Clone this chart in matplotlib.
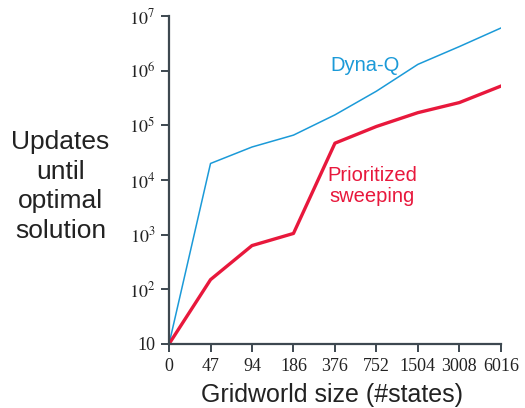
import matplotlib
matplotlib.use("Agg")
import matplotlib.pyplot as plt
import numpy as np

# gridworld sizes (categorical x axis, equally spaced)
SIZES = ["0", "47", "94", "186", "376", "752", "1504", "3008", "6016"]

# updates until optimal solution
DYNA_Q = [10, 2.0e4, 4.0e4, 6.6e4, 1.55e5, 4.2e5, 1.3e6, 2.75e6, 6.0e6]
PRIO_SWEEP = [10, 150, 630, 1050, 4.7e4, 9.5e4, 1.7e5, 2.6e5, 5.2e5]

YTICKS = [10, 1e2, 1e3, 1e4, 1e5, 1e6, 1e7]
YTICK_LABELS = ["10", "$10^{2}$", "$10^{3}$", "$10^{4}$", "$10^{5}$", "$10^{6}$", "$10^{7}$"]

BLUE = "#1b9ad8"
RED = "#e8183c"
AXC = "#3d4850"

plt.rcParams["mathtext.fontset"] = "stix"

fig = plt.figure(figsize=(5.25, 4.08), dpi=100)
ax = fig.add_axes([0.322, 0.157, 0.632, 0.804])

x = np.arange(len(SIZES))
ax.plot(x, DYNA_Q, color=BLUE, lw=1.1)
ax.plot(x, PRIO_SWEEP, color=RED, lw=2.4)

ax.set_yscale("log")
ax.set_ylim(10, 1e7)
ax.set_xlim(0, len(SIZES) - 1)
ax.set_yticks(YTICKS)
ax.set_yticklabels(YTICK_LABELS)
ax.yaxis.set_minor_locator(matplotlib.ticker.NullLocator())
ax.set_xticks(x)
ax.set_xticklabels(SIZES)

for lab in ax.get_xticklabels() + ax.get_yticklabels():
    lab.set_fontfamily("Liberation Serif")
    lab.set_fontsize(13)
    lab.set_color("#222222")

for s in ["top", "right"]:
    ax.spines[s].set_visible(False)
for s in ["left", "bottom"]:
    ax.spines[s].set_color(AXC)
    ax.spines[s].set_linewidth(1.6)
ax.tick_params(direction="out", length=6, width=1.4, color=AXC, pad=4)

ax.text(3.88, 1.26e6, "Dyna-Q", color=BLUE, fontsize=14.5, family="Liberation Sans",
        ha="left", va="center")
ax.text(4.89, 7.8e3, "Prioritized\nsweeping", color=RED, fontsize=14.5,
        family="Liberation Sans", ha="center", va="center", linespacing=1.1)

fig.text(0.115, 0.543, "Updates\nuntil\noptimal\nsolution", fontsize=19,
         family="Liberation Sans", ha="center", va="center", linespacing=1.3,
         color="#222222")
fig.text(0.632, 0.032, "Gridworld size (#states)", fontsize=18,
         family="Liberation Sans", ha="center", va="center", color="#222222")

fig.savefig("out.png", dpi=100)
